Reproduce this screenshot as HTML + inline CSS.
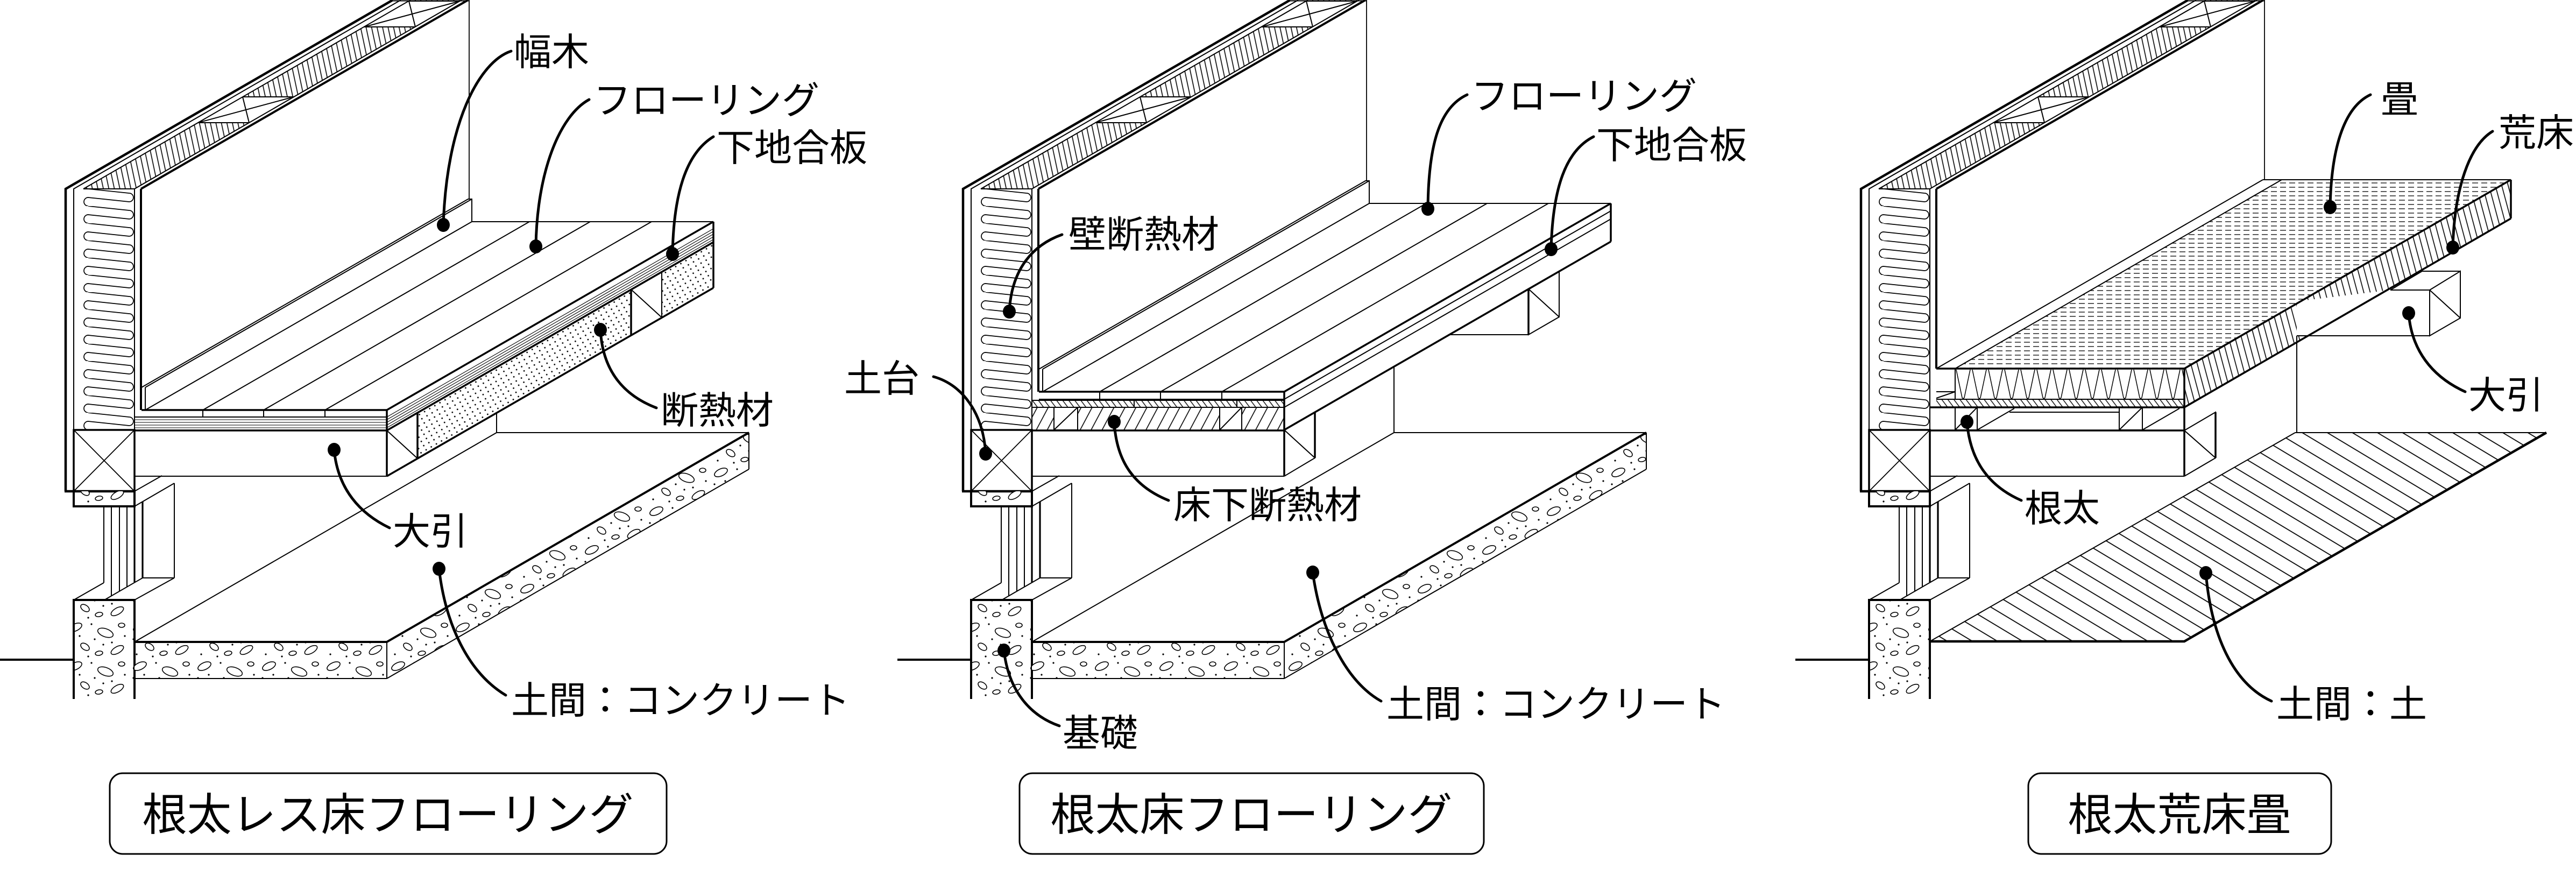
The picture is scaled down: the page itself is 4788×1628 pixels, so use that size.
<!DOCTYPE html>
<html>
<head>
<meta charset="utf-8">
<style>
html,body{margin:0;padding:0;background:#fff;}
svg{display:block;}
text{font-family:"Liberation Sans","Noto Sans CJK JP",sans-serif;fill:#000;}
</style>
</head>
<body>
<svg width="4788" height="1628" viewBox="0 0 4788 1628" xmlns="http://www.w3.org/2000/svg">
<defs>
  <pattern id="lobes" patternUnits="userSpaceOnUse" x="155" y="351" width="95" height="32">
    <path d="M9,0 L85,8 A8,8 0 0 1 85,24 L9,16 A8,8 0 0 0 9,32" fill="none" stroke="#000" stroke-width="1.7"/>
  </pattern>
  <pattern id="hW" patternUnits="userSpaceOnUse" width="10" height="10" patternTransform="rotate(-12)">
    <line x1="5" y1="-2" x2="5" y2="12" stroke="#000" stroke-width="1.6"/>
  </pattern>
  <pattern id="conc" patternUnits="userSpaceOnUse" width="120" height="72">
    <g fill="#fff" stroke="#000" stroke-width="1.6">
      <ellipse cx="20" cy="14" rx="13" ry="6.5" transform="rotate(-25 20 14)"/>
      <ellipse cx="76" cy="24" rx="15" ry="7.5" transform="rotate(20 76 24)"/>
      <ellipse cx="38" cy="50" rx="9" ry="5.5" transform="rotate(35 38 50)"/>
      <ellipse cx="98" cy="56" rx="13" ry="6" transform="rotate(-30 98 56)"/>
      <ellipse cx="106" cy="10" rx="6" ry="4"/>
      <ellipse cx="64" cy="62" rx="7" ry="4" transform="rotate(-10 64 62)"/>
    </g>
    <g fill="#000">
      <circle cx="50" cy="8" r="1.6"/><circle cx="8" cy="36" r="1.6"/><circle cx="88" cy="42" r="1.6"/>
      <circle cx="72" cy="46" r="1.6"/><circle cx="28" cy="30" r="1.6"/><circle cx="112" cy="30" r="1.6"/>
      <circle cx="14" cy="64" r="1.6"/><circle cx="56" cy="36" r="1.6"/><circle cx="44" cy="68" r="1.6"/>
    </g>
  </pattern>
  <pattern id="dots" patternUnits="userSpaceOnUse" width="11" height="9" patternTransform="rotate(-30)">
    <circle cx="4" cy="4" r="1.4" fill="#000"/>
  </pattern>
  <pattern id="earth" patternUnits="userSpaceOnUse" width="24" height="24" patternTransform="rotate(-59)">
    <line x1="12" y1="-2" x2="12" y2="26" stroke="#000" stroke-width="1.8"/>
  </pattern>
  <pattern id="tside" patternUnits="userSpaceOnUse" width="11.5" height="11.5" patternTransform="rotate(-15)">
    <line x1="6" y1="-2" x2="6" y2="14" stroke="#000" stroke-width="1.6"/>
  </pattern>
  <pattern id="ply" patternUnits="userSpaceOnUse" width="9" height="9" patternTransform="rotate(-37)">
    <line x1="4.5" y1="-2" x2="4.5" y2="11" stroke="#000" stroke-width="1.4"/>
  </pattern>
  <pattern id="joist" patternUnits="userSpaceOnUse" width="18" height="18" patternTransform="rotate(28)">
    <line x1="9" y1="-2" x2="9" y2="20" stroke="#000" stroke-width="1.6"/>
  </pattern>
  <pattern id="zig" patternUnits="userSpaceOnUse" x="297" y="687" width="30" height="55">
    <path d="M2,0 L13,52 Q15,55 17,52 L28,0" fill="none" stroke="#000" stroke-width="1.5"/>
  </pattern>
  <pattern id="dash" patternUnits="userSpaceOnUse" width="17" height="8">
    <line x1="0" y1="4" x2="11" y2="4" stroke="#000" stroke-width="1.3"/>
  </pattern>

  <!-- common wall -->
  <g id="W">
    <polygon points="155,351 250,351 858,0 763,0" fill="url(#hW)"/>
    <polygon points="368,228 463,228 546,180 451,180" fill="#fff"/>
    <polygon points="677,50 772,50 855,2 760,2" fill="#fff"/>
    <rect x="155" y="351" width="95" height="448" fill="url(#lobes)"/>
    <g stroke="#000" fill="none" stroke-width="2">
      <line x1="368" y1="228" x2="463" y2="228"/><line x1="451" y1="180" x2="546" y2="180"/>
      <line x1="368" y1="228" x2="546" y2="180"/><line x1="463" y1="228" x2="451" y2="180"/>
      <line x1="677" y1="50" x2="772" y2="50"/><line x1="760" y1="2" x2="855" y2="2"/>
      <line x1="677" y1="50" x2="855" y2="2"/><line x1="772" y1="50" x2="760" y2="2"/>
      <polyline points="137,799 137,351 745,0"/>
      <line x1="155" y1="351" x2="763" y2="0"/>
      <polyline points="250,799 250,351 858,0"/>
      <line x1="155" y1="351" x2="250" y2="351"/>
      <line x1="730" y1="1.5" x2="872" y2="1.5"/>
    </g>
    <polyline points="122,913 122,351 730,0" stroke="#000" stroke-width="4.5" fill="none"/>
    <line x1="262" y1="351" x2="870" y2="0" stroke="#000" stroke-width="4"/>
    <rect x="137" y="799" width="113" height="114" fill="#fff" stroke="#000" stroke-width="3.5"/>
    <line x1="137" y1="799" x2="250" y2="913" stroke="#000" stroke-width="1.8"/>
    <line x1="250" y1="799" x2="137" y2="913" stroke="#000" stroke-width="1.8"/>
    <line x1="120" y1="913" x2="250" y2="913" stroke="#000" stroke-width="4.5"/>
  </g>

  <!-- common foundation -->
  <g id="F">
    <rect x="137" y="913" width="113" height="28" fill="url(#conc)"/>
    <rect x="137" y="1115" width="113" height="184" fill="url(#conc)"/>
    <g stroke="#000" fill="none" stroke-width="2">
      <line x1="193" y1="941" x2="193" y2="1083"/>
      <line x1="207" y1="941" x2="207" y2="1107"/>
      <line x1="222" y1="941" x2="222" y2="1098"/>
      <line x1="236" y1="941" x2="236" y2="1090"/>
      <line x1="137" y1="1115" x2="193" y2="1083"/>
      <line x1="194" y1="1115" x2="265" y2="1074"/>
      <line x1="250" y1="1115" x2="324" y2="1074"/>
      <line x1="250" y1="941" x2="324" y2="898"/>
      <line x1="250" y1="913" x2="301" y2="884"/>
      <line x1="265" y1="1074" x2="324" y2="1074"/>
      <line x1="324" y1="898" x2="324" y2="1074"/>
    </g>
    <g stroke="#000" stroke-width="3.2" fill="none">
      <line x1="250" y1="941" x2="250" y2="1082"/>
      <line x1="265" y1="932" x2="265" y2="1074"/>
    </g>
    <g stroke="#000" stroke-width="4" fill="none">
      <polyline points="137,913 137,941 250,941 250,913"/>
      <polyline points="137,1299 137,1115 250,1115 250,1299"/>
      <line x1="0" y1="1226" x2="137" y2="1226"/>
    </g>
  </g>

  <!-- concrete slab -->
  <g id="S">
    <polygon points="719,1193 1392,804 1392,872 719,1261" fill="url(#conc)"/>
    <rect x="250" y="1193" width="469" height="68" fill="url(#conc)"/>
    <g stroke="#000" stroke-width="2" fill="none">
      <line x1="250" y1="1193" x2="923" y2="804"/>
      <line x1="923" y1="804" x2="1392" y2="804"/>
      <line x1="1392" y1="804" x2="1392" y2="872"/>
      <line x1="719" y1="1261" x2="1392" y2="872"/>
      <line x1="250" y1="1261" x2="719" y2="1261"/>
      <line x1="719" y1="1193" x2="719" y2="1261"/>
    </g>
    <polyline points="250,1193 719,1193 1392,804" stroke="#000" stroke-width="4" fill="none"/>
  </g>
</defs>

<!-- ============ DIAGRAM 1 ============ -->
<use href="#W"/>
<use href="#F"/>
<use href="#S"/>
<g stroke="#000" fill="none" stroke-width="2">
  <line x1="262" y1="351" x2="262" y2="762" stroke-width="4"/>
  <line x1="872" y1="0" x2="872" y2="370" stroke-width="1.8"/>
  <polyline points="263,762 263,720 870,370 877,370 877,412"/>
  <line x1="270" y1="720" x2="877" y2="370"/>
  <line x1="270" y1="720" x2="270" y2="762"/>
  <line x1="270" y1="762" x2="877" y2="412"/>
  <line x1="377" y1="762" x2="984" y2="412"/>
  <line x1="490" y1="762" x2="1097" y2="412"/>
  <line x1="604" y1="762" x2="1211" y2="412"/>
  <line x1="877" y1="412" x2="1326" y2="412"/>
  <line x1="250" y1="775" x2="719" y2="775"/>
  <line x1="377" y1="762" x2="377" y2="775"/>
  <line x1="490" y1="762" x2="490" y2="775"/>
  <line x1="604" y1="762" x2="604" y2="775"/>
  <g stroke-width="1.1">
    <line x1="250" y1="780" x2="719" y2="780"/><line x1="250" y1="785" x2="719" y2="785"/>
    <line x1="250" y1="790" x2="719" y2="790"/><line x1="250" y1="795" x2="719" y2="795"/>
    <line x1="719" y1="775" x2="1326" y2="425"/><line x1="719" y1="780" x2="1326" y2="430"/>
    <line x1="719" y1="785" x2="1326" y2="435"/><line x1="719" y1="790" x2="1326" y2="440"/>
    <line x1="719" y1="795" x2="1326" y2="445"/>
  </g>
  <line x1="250" y1="885" x2="719" y2="885"/>
  <line x1="923" y1="767" x2="923" y2="804"/>
</g>
<polygon points="776,767 1173,538 1173,623 776,852" fill="url(#dots)"/>
<polygon points="1230,505 1326,450 1326,535 1230,590" fill="url(#dots)"/>
<g stroke="#000" fill="none" stroke-width="2">
  <polyline points="719,800 776,767 776,852 719,885"/>
  <line x1="719" y1="800" x2="776" y2="852"/>
  <polyline points="1173,623 1173,538 1230,505 1230,590"/>
  <line x1="1173" y1="538" x2="1230" y2="590"/>
</g>
<g stroke="#000" fill="none" stroke-width="3.5">
  <line x1="263" y1="762" x2="719" y2="762"/>
  <line x1="719" y1="762" x2="1326" y2="412"/>
  <line x1="250" y1="800" x2="719" y2="800"/>
  <line x1="719" y1="800" x2="1326" y2="450"/>
  <line x1="719" y1="762" x2="719" y2="885"/>
  <line x1="719" y1="885" x2="1326" y2="535"/>
  <line x1="1326" y1="412" x2="1326" y2="535"/>
  <line x1="776" y1="767" x2="776" y2="852"/>
  <line x1="1173" y1="538" x2="1173" y2="623"/>
</g>

<!-- ============ DIAGRAM 2 ============ -->
<g transform="translate(1668 0)">
  <use href="#W"/>
  <use href="#F"/>
  <use href="#S"/>
  <rect x="250" y="744" width="469" height="13" fill="url(#ply)"/>
  <rect x="250" y="757" width="469" height="42" fill="url(#joist)"/>
  <rect x="291" y="757" width="44" height="42" fill="#fff"/>
  <rect x="599" y="757" width="41" height="42" fill="#fff"/>
  <g stroke="#000" fill="none" stroke-width="2">
    <line x1="262" y1="351" x2="262" y2="728" stroke-width="4"/>
    <line x1="872" y1="0" x2="872" y2="336" stroke-width="1.8"/>
    <polyline points="263,728 263,686 870,336 877,336 877,378"/>
    <line x1="270" y1="686" x2="877" y2="336"/>
    <line x1="270" y1="686" x2="270" y2="728"/>
    <line x1="270" y1="728" x2="877" y2="378"/>
    <line x1="376" y1="728" x2="983" y2="378"/>
    <line x1="489" y1="728" x2="1096" y2="378"/>
    <line x1="603" y1="728" x2="1210" y2="378"/>
    <line x1="877" y1="378" x2="1326" y2="378"/>
    <line x1="263" y1="742" x2="719" y2="742"/>
    <line x1="376" y1="728" x2="376" y2="742"/>
    <line x1="489" y1="728" x2="489" y2="742"/>
    <line x1="603" y1="728" x2="603" y2="742"/>
    <line x1="250" y1="744" x2="719" y2="744"/>
    <line x1="250" y1="757" x2="719" y2="757"/>
    <line x1="440" y1="744" x2="440" y2="757"/>
    <line x1="631" y1="744" x2="631" y2="757"/>
    <rect x="291" y="757" width="44" height="42"/>
    <line x1="291" y1="799" x2="335" y2="757"/>
    <rect x="599" y="757" width="41" height="42"/>
    <line x1="599" y1="799" x2="640" y2="757"/>
    <line x1="250" y1="885" x2="719" y2="885"/>
    <line x1="719" y1="742" x2="1326" y2="392"/>
    <line x1="719" y1="757" x2="1326" y2="407"/>
    <polyline points="719,799 776,766 776,851 719,885"/>
    <line x1="719" y1="799" x2="776" y2="851"/>
    <polygon points="1173,537 1230,504 1230,589 1173,622" fill="#fff"/>
    <line x1="1173" y1="537" x2="1230" y2="589"/>
    <line x1="1027" y1="622" x2="1173" y2="622"/>
    <line x1="923" y1="681" x2="923" y2="804"/>
  </g>
  <g stroke="#000" fill="none" stroke-width="3.5">
    <line x1="263" y1="728" x2="719" y2="728"/>
    <line x1="719" y1="728" x2="1326" y2="378"/>
    <line x1="250" y1="800" x2="719" y2="800"/>
    <line x1="719" y1="728" x2="719" y2="885"/>
    <line x1="719" y1="799" x2="1326" y2="449"/>
    <line x1="1326" y1="378" x2="1326" y2="449"/>
    <line x1="776" y1="766" x2="776" y2="851"/>
    <line x1="1173" y1="537" x2="1173" y2="622"/>
  </g>
</g>

<!-- ============ DIAGRAM 3 ============ -->
<g transform="translate(3337 0)">
  <use href="#W"/>
  <use href="#F"/>
  <!-- earth -->
  <polygon points="250,1192 723,1192 1396,804 929,804" fill="url(#earth)"/>
  <g stroke="#000" fill="none" stroke-width="2">
    <line x1="250" y1="1192" x2="929" y2="804"/>
    <line x1="929" y1="804" x2="1396" y2="804"/>
  </g>
  <polyline points="250,1192 723,1192 1396,804" stroke="#000" stroke-width="4.5" fill="none"/>
  <!-- tatami -->
  <polygon points="297,686 723,686 1330,335 904,335" fill="url(#dash)"/>
  <polygon points="723,685 1330,334 1330,406 723,757" fill="url(#tside)"/>
  <rect x="297" y="687" width="426" height="55" fill="url(#zig)"/>
  <rect x="262" y="743" width="461" height="14" fill="url(#ply)"/>
  <rect x="297" y="757" width="41" height="42" fill="#fff"/>
  <rect x="602" y="757" width="43" height="42" fill="#fff"/>
  <g stroke="#000" fill="none" stroke-width="2">
    <line x1="262" y1="351" x2="262" y2="685" stroke-width="4"/>
    <line x1="872" y1="0" x2="872" y2="334" stroke-width="1.8"/>
    <line x1="262" y1="685" x2="869" y2="334"/>
    <line x1="297" y1="685" x2="904" y2="334"/>
    <line x1="869" y1="334" x2="1330" y2="334"/>
    <line x1="262" y1="742" x2="723" y2="742"/>
    <line x1="262" y1="728" x2="297" y2="728"/>
    <line x1="297" y1="685" x2="297" y2="742"/>
    <line x1="262" y1="740" x2="297" y2="728"/>
    <rect x="297" y="757" width="41" height="42"/>
    <line x1="297" y1="799" x2="338" y2="757"/>
    <rect x="602" y="757" width="43" height="42"/>
    <line x1="602" y1="799" x2="645" y2="757"/>
    <line x1="338" y1="799" x2="407" y2="759"/>
    <line x1="645" y1="799" x2="714" y2="759"/>
    <line x1="398" y1="766" x2="602" y2="766"/>
    <line x1="250" y1="885" x2="723" y2="885"/>
    <polyline points="723,800 781,766 781,851 723,885"/>
    <line x1="723" y1="800" x2="781" y2="851"/>
    <polygon points="1106,539 1179,539 1179,624 932,624 932,560" fill="#fff" stroke="none"/>
    <line x1="1106" y1="539" x2="1179" y2="539"/>
    <line x1="1106" y1="539" x2="1165" y2="504"/>
    <line x1="1165" y1="504" x2="1236" y2="504"/>
    <polygon points="1179,539 1236,504 1236,591 1179,624" fill="#fff"/>
    <line x1="1179" y1="539" x2="1236" y2="591"/>
    <line x1="932" y1="624" x2="1179" y2="624"/>
    <line x1="932" y1="624" x2="932" y2="804"/>
  </g>
  <g stroke="#000" fill="none" stroke-width="3.5">
    <line x1="262" y1="685" x2="723" y2="685"/>
    <line x1="723" y1="685" x2="1330" y2="334"/>
    <line x1="723" y1="757" x2="1330" y2="406"/>
    <line x1="1330" y1="334" x2="1330" y2="406"/>
    <line x1="250" y1="757" x2="723" y2="757"/>
    <line x1="250" y1="800" x2="723" y2="800"/>
    <line x1="723" y1="685" x2="723" y2="885"/>
    <line x1="781" y1="766" x2="781" y2="851"/>
  </g>
</g>

<!-- ============ LEADERS ============ -->
<g stroke="#000" stroke-width="5" fill="none" stroke-linecap="round">
  <path d="M950,95 C890,115 830,230 824,418"/>
  <path d="M1095,185 C1040,215 998,320 996,458"/>
  <path d="M1326,254 C1275,285 1252,360 1250,472"/>
  <path d="M1116,613 C1120,690 1160,735 1220,758"/>
  <path d="M621,836 C628,910 670,955 724,981"/>
  <path d="M816,1057 C828,1160 870,1250 940,1292"/>

  <path d="M2727,176 C2675,200 2655,270 2654,388"/>
  <path d="M2962,254 C2910,280 2886,350 2883,463"/>
  <path d="M1974,436 C1920,455 1880,500 1876,579"/>
  <path d="M1735,700 C1790,715 1828,770 1832,843"/>
  <path d="M2071,784 C2075,860 2110,905 2172,930"/>
  <path d="M2440,1064 C2455,1170 2500,1265 2567,1303"/>
  <path d="M1866,1209 C1875,1285 1915,1330 1969,1349"/>

  <path d="M4406,176 C4355,200 4333,280 4331,385"/>
  <path d="M4633,244 C4590,270 4562,350 4559,460"/>
  <path d="M4477,582 C4482,650 4520,700 4582,728"/>
  <path d="M3656,784 C3662,860 3700,905 3757,930"/>
  <path d="M4100,1065 C4110,1180 4150,1270 4222,1303"/>
</g>
<g fill="#000">
  <ellipse cx="824" cy="418" rx="12" ry="13"/>
  <ellipse cx="996" cy="458" rx="12" ry="13"/>
  <ellipse cx="1250" cy="472" rx="12" ry="13"/>
  <ellipse cx="1116" cy="613" rx="12" ry="13"/>
  <ellipse cx="621" cy="836" rx="12" ry="13"/>
  <ellipse cx="816" cy="1057" rx="12" ry="13"/>

  <ellipse cx="2654" cy="388" rx="12" ry="13"/>
  <ellipse cx="2883" cy="463" rx="12" ry="13"/>
  <ellipse cx="1876" cy="579" rx="12" ry="13"/>
  <ellipse cx="1832" cy="843" rx="12" ry="13"/>
  <ellipse cx="2071" cy="784" rx="12" ry="13"/>
  <ellipse cx="2440" cy="1064" rx="12" ry="13"/>
  <ellipse cx="1866" cy="1209" rx="12" ry="13"/>

  <ellipse cx="4331" cy="385" rx="12" ry="13"/>
  <ellipse cx="4559" cy="460" rx="12" ry="13"/>
  <ellipse cx="4477" cy="582" rx="12" ry="13"/>
  <ellipse cx="3656" cy="784" rx="12" ry="13"/>
  <ellipse cx="4100" cy="1065" rx="12" ry="13"/>
</g>

<!-- ============ LABELS ============ -->
<g font-size="70">
  <text x="955" y="121">幅木</text>
  <text x="1103" y="211">フローリング</text>
  <text x="1332" y="299">下地合板</text>
  <text x="1228" y="787">断熱材</text>
  <text x="730" y="1012">大引</text>
  <text x="950" y="1326">土間：コンクリート</text>

  <text x="2734" y="203">フローリング</text>
  <text x="2967" y="294">下地合板</text>
  <text x="1986" y="460">壁断熱材</text>
  <text x="1569" y="728">土台</text>
  <text x="2181" y="963">床下断熱材</text>
  <text x="2577" y="1333">土間：コンクリート</text>
  <text x="1975" y="1387">基礎</text>

  <text x="4425" y="209">畳</text>
  <text x="4644" y="271">荒床</text>
  <text x="4588" y="759">大引</text>
  <text x="3763" y="969">根太</text>
  <text x="4231" y="1333">土間：土</text>
</g>

<!-- ============ TITLE BOXES ============ -->
<g fill="#fff" stroke="#000" stroke-width="3">
  <rect x="204" y="1437" width="1035" height="150" rx="24" ry="24"/>
  <rect x="1895" y="1437" width="863" height="150" rx="24" ry="24"/>
  <rect x="3770" y="1437" width="563" height="150" rx="24" ry="24"/>
</g>
<g font-size="83" text-anchor="middle">
  <text x="721" y="1543">根太レス床フローリング</text>
  <text x="2326" y="1543">根太床フローリング</text>
  <text x="4051" y="1543">根太荒床畳</text>
</g>
</svg>
</body>
</html>
